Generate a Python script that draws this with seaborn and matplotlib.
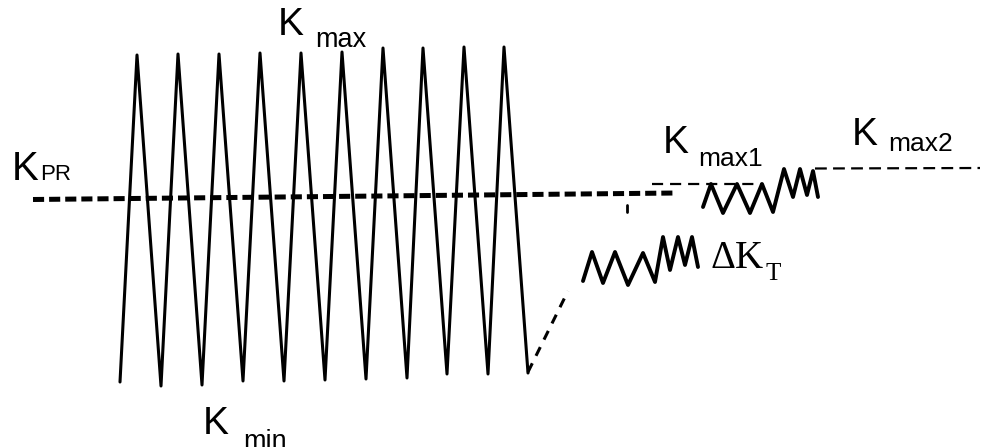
"""
Schematic of overload / underload loading: K_PR, K_max, K_min, dK_T, K_max1, K_max2
"""

import numpy as np
import pandas as pd
import matplotlib
matplotlib.use("Agg")
import matplotlib.pyplot as plt
import seaborn as sns

# ---- data (x = time, y = K, arbitrary units) ----
cycle_t = [120, 137, 161, 178, 202, 219, 243, 260, 284, 301, 325,
           342, 366, 383, 407, 423, 447, 464, 488, 504, 528]
cycle_k = [65, 392, 61, 393, 62, 393, 66, 394, 66, 394, 67,
           395, 68, 399, 69, 399, 73, 400, 73, 400, 74]

kpr_t = [33, 677]
kpr_k = [247.5, 254]

drop_t = [528, 568]
drop_k = [75, 156]

dkt_t = [583, 592, 603, 615, 628, 643, 655, 663, 670, 678, 685, 692, 698]
dkt_k = [166, 195, 164, 195, 162, 194, 165, 210, 177, 210, 182, 210, 180]

kmax1_t = [703, 711, 723, 737, 750, 762, 773, 784, 793, 800, 807, 813, 818]
kmax1_k = [240, 263, 234, 263, 234, 263, 235, 278, 250, 278, 252, 276, 250]

level1_t = [652, 762]
level1_k = [263, 263]

level2_t = [815, 980]
level2_k = [278.5, 279]

tick_t = [627, 627]
tick_k = [242, 235]

sns.set_theme(style="white")
plt.rcParams['lines.scale_dashes'] = False
plt.rcParams['font.family'] = ['Liberation Sans', 'DejaVu Sans']

fig = plt.figure(figsize=(9.84, 4.47), dpi=100)
ax = fig.add_axes([0, 0, 1, 1])


def draw(t, k, lw, ls='-'):
    df = pd.DataFrame({'t': t, 'k': k})
    sns.lineplot(data=df, x='t', y='k', sort=False, estimator=None, ax=ax,
                 color='black', linewidth=lw, linestyle=ls)


draw(cycle_t, cycle_k, 2.2)
draw(kpr_t, kpr_k, 3.6, (0, (8, 3.6)))
draw(drop_t, drop_k, 2.2, (0, (7, 6)))
draw(dkt_t, dkt_k, 2.8)
draw(kmax1_t, kmax1_k, 2.8)
draw(level1_t, level1_k, 1.6, (0, (8, 5)))
draw(level2_t, level2_k, 1.6, (0, (8.5, 4.5)))
draw(tick_t, tick_k, 2.0)

ax.set_xlim(0, 984)
ax.set_ylim(0, 447)
ax.axis('off')


# labels (baselines in picture pixels, y measured from top)
def label(x, y, s, size, family='Liberation Sans'):
    ax.text(x, 447 - y, s, fontsize=size, family=family,
            ha='left', va='baseline', color='black')


label(12, 180, 'K', 29)
label(40, 180, 'PR', 16)

label(278, 35, 'K', 28)
label(315, 47, 'max', 19.5)

label(203, 434, 'K', 28)
label(243, 449, 'min', 19.5)

label(663, 153, 'K', 28)
label(698, 166, 'max1', 19)

label(852, 145, 'K', 28)
label(888, 151, 'max2', 19)

label(711, 268, '\u0394K', 28, family='Liberation Serif')
label(765, 280, 'T', 18, family='Liberation Serif')

fig.savefig('out.png', dpi=100)
